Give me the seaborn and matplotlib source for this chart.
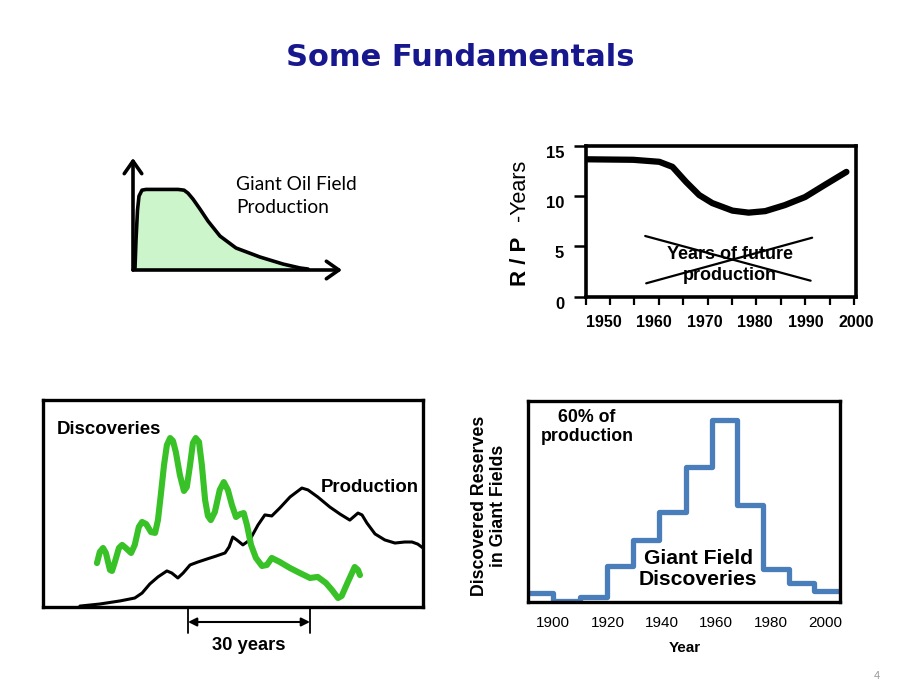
import numpy as np
import pandas as pd
import matplotlib
matplotlib.use("Agg")
import matplotlib.pyplot as plt
import matplotlib.transforms as mtransforms
from matplotlib.ticker import FixedLocator
import seaborn as sns

# ---------------- data ----------------
# Panel 1: giant oil field production profile (years since start, % of plateau)
field_years = [0.5, 0.75, 1.125, 1.5, 2.25, 3.25, 6.75, 11.25, 12.75, 13.75, 15.0,
               16.75, 18.75, 21.75, 25.75, 31.75, 37.5, 41.75, 43.75]
field_prod = [2.5, 37.2, 74.3, 91.7, 99.1, 100, 100, 100, 99.1, 95.4, 88.0,
              75.6, 60.7, 42.1, 27.3, 16.1, 7.4, 2.5, 1.2]

# Panel 2: R/P ratio in years
rp_years = [1946.6, 1955.8, 1961.0, 1963.6, 1966.3, 1968.9, 1971.5, 1975.5,
            1978.7, 1982.0, 1985.9, 1989.9, 1993.8, 1998.1]
rp_values = [13.65, 13.6, 13.4, 12.9, 11.4, 10.1, 9.3, 8.55, 8.35, 8.5, 9.1,
             9.9, 11.1, 12.4]
cross_a_years = [1958.2, 1991.0]
cross_a_values = [6.03, 1.59]
cross_b_years = [1958.4, 1991.3]
cross_b_values = [1.33, 5.86]
rp_tick_years = [1950, 1960, 1970, 1980, 1990, 2000]
rp_tick_values = [0, 5, 10, 15]

# Panel 3: discoveries vs production (relative)
disc_years = [1928.2, 1928.9, 1929.7, 1930.4, 1931.4, 1931.9, 1932.6, 1933.6, 1934.4,
              1935.3, 1936.6, 1937.5, 1938.5, 1939.3, 1940.3, 1941.5, 1942.5, 1943.2,
              1943.9, 1944.7, 1945.4, 1946.2, 1946.9, 1947.6, 1948.6, 1949.6, 1950.3,
              1951.1, 1951.8, 1952.5, 1953.3, 1954.0, 1954.8, 1955.5, 1956.2, 1957.2,
              1958.4, 1959.4, 1960.4, 1961.4, 1962.4, 1963.4, 1964.3, 1965.1, 1966.1,
              1967.3, 1968.8, 1970.0, 1971.2, 1973.2, 1975.7, 1978.1, 1980.6, 1982.5,
              1984.5, 1986.0, 1987.5, 1988.4, 1989.9, 1991.6, 1992.4, 1992.9]
disc_values = [21.1, 26.5, 28.4, 26.0, 17.8, 17.3, 21.6, 28.4, 29.9,
               28.4, 26.0, 29.9, 38.6, 41.0, 40.0, 36.1, 35.7, 41.9,
               54.0, 68.6, 78.2, 81.6, 80.2, 74.8, 63.7, 56.0, 57.9,
               68.6, 79.2, 81.6, 79.7, 68.6, 51.6, 43.9, 41.9, 45.8,
               56.5, 60.3, 56.5, 49.2, 43.4, 44.8, 45.3, 39.5, 29.9,
               23.6, 19.7, 20.2, 23.6, 21.6, 18.7, 16.3, 13.9, 14.4,
               11.5, 8.1, 4.2, 5.2, 11.9, 19.2, 17.8, 15.3]
prod_years = [1924.0, 1928.9, 1933.9, 1937.5, 1939.3, 1941.2, 1943.2, 1945.4, 1946.6,
              1948.1, 1949.4, 1951.1, 1953.0, 1955.3, 1957.5, 1959.7, 1960.7, 1961.6,
              1962.6, 1964.1, 1965.8, 1967.8, 1969.5, 1971.2, 1973.2, 1975.7, 1978.6,
              1980.1, 1982.5, 1985.5, 1988.0, 1990.4, 1992.4, 1993.4, 1994.6, 1996.6,
              1999.0, 2001.5, 2003.9, 2005.7, 2007.1, 2008.4]
prod_values = [0.3, 1.3, 2.8, 4.2, 6.6, 11.0, 14.4, 17.3, 16.3,
               13.9, 16.3, 20.2, 21.6, 23.1, 24.5, 26.0, 28.9, 33.7,
               32.3, 29.9, 32.3, 39.5, 44.4, 43.9, 47.8, 53.1, 57.4,
               56.5, 53.1, 48.2, 44.8, 41.9, 45.3, 44.4, 40.5, 35.2,
               32.3, 30.8, 31.3, 31.3, 30.3, 28.4]
lag_start = 1950.6
lag_years = 30

# Panel 4: giant field discoveries by period (bin edges, relative reserves)
giant_edges = [1890.9, 1900.1, 1909.9, 1919.7, 1929.3, 1939.0, 1948.9, 1958.3,
               1967.5, 1977.1, 1986.8, 1996.1, 2004.9]
giant_values = [4.2, 0.5, 2.5, 17.8, 30.7, 44.8, 66.9, 90.4, 48.1, 16.3, 9.2, 5.5]
giant_tick_years = [1900, 1920, 1940, 1960, 1980, 2000]

# ---------------- style ----------------
sns.set_style("white")
plt.rcParams["font.family"] = ["Liberation Sans", "DejaVu Sans"]
plt.rcParams["text.color"] = "black"
plt.rcParams["xtick.color"] = "black"
plt.rcParams["ytick.color"] = "black"
plt.rcParams["axes.labelcolor"] = "black"

W, H = 900, 695
fig = plt.figure(figsize=(9, 6.95), dpi=100)


def box(left, top, right, bottom):
    return [left / W, 1 - bottom / H, (right - left) / W, (bottom - top) / H]


def ftext(px, py, s, **kw):
    fig.text(px / W, 1 - py / H, s, **kw)


# Title
ftext(460, 58, "Some Fundamentals", ha="center", va="center", fontsize=22,
      fontweight="bold", color="#18188e", family=["DejaVu Sans"])

# ---------- Panel 1 ----------
ax1 = fig.add_axes(box(133, 158, 342, 270))
ax1.set_xlim(0, 52.25)
ax1.set_ylim(0, 139)
ax1.axis("off")
ax1.fill_between(field_years, field_prod, 0, color="#ccf5cc", lw=0)
sns.lineplot(x=field_years, y=field_prod, ax=ax1, color="black", lw=2.6,
             estimator=None, sort=False)
arrow_kw = dict(arrowstyle="->,head_length=0.5,head_width=0.35", lw=2.6,
                color="black", mutation_scale=18, shrinkA=0, shrinkB=0)
ax1.annotate("", xy=(52.25, 0), xytext=(0, 0), arrowprops=arrow_kw,
             annotation_clip=False)
ax1.annotate("", xy=(0, 139), xytext=(0, 0), arrowprops=arrow_kw,
             annotation_clip=False)
ftext(236, 196, "Giant Oil Field\nProduction", ha="left", va="center",
      fontsize=13.8, family=["Lato", "DejaVu Sans"], linespacing=1.4)

# ---------- Panel 2 ----------
ax2 = fig.add_axes(box(585.7, 145.7, 856, 296.7))
xl = (1946.4, 1999.6)
ax2.set_xlim(*xl)
ax2.set_ylim(0, 15)
sns.lineplot(x=rp_years, y=rp_values, ax=ax2, color="black", lw=4.5,
             estimator=None, sort=False)
sns.lineplot(x=cross_a_years, y=cross_a_values, ax=ax2, color="black", lw=1.6,
             estimator=None, sort=False)
sns.lineplot(x=cross_b_years, y=cross_b_values, ax=ax2, color="black", lw=1.6,
             estimator=None, sort=False)
for s in ax2.spines.values():
    s.set_linewidth(2.6)
    s.set_color("black")
ax2.set_yticks(rp_tick_values)
ax2.set_yticklabels([str(v) for v in rp_tick_values], fontweight="bold", fontsize=12)
ax2.set_xticks(rp_tick_years)
ax2.set_xticklabels([str(v) for v in rp_tick_years], fontweight="bold", fontsize=11.5)
ax2.xaxis.set_minor_locator(FixedLocator(np.linspace(xl[0], xl[1], 12)))
ax2.tick_params(axis="y", left=True, length=8.5, width=1.8, direction="out", pad=7)
ax2.tick_params(axis="x", which="major", bottom=True, length=0, pad=13)
ax2.tick_params(axis="x", which="minor", bottom=True, length=5.5, width=1.6,
                direction="out")
for lab in ax2.get_yticklabels():
    lab.set_verticalalignment("top")
ax2.set_xlabel("")
ax2.set_ylabel("")
ftext(730, 265, "Years of future\nproduction", ha="center", va="center",
      fontsize=13, fontweight="bold", linespacing=1.3)
ftext(520, 261, "R / P", rotation=90, ha="center", va="center", fontsize=16,
      fontweight="bold")
ftext(520, 190, "-Years", rotation=90, ha="center", va="center", fontsize=15.5)

# ---------- Panel 3 ----------
ax3 = fig.add_axes(box(43.3, 400, 423, 606.7))
ax3.set_xlim(1915, 2008.4)
ax3.set_ylim(0, 100)
sns.lineplot(x=prod_years, y=prod_values, ax=ax3, color="black", lw=2.2,
             estimator=None, sort=False)
sns.lineplot(x=disc_years, y=disc_values, ax=ax3, color="#39c128", lw=4.4,
             estimator=None, sort=False, solid_joinstyle="round",
             solid_capstyle="round")
ax3.set_xticks([])
ax3.set_yticks([])
ax3.set_xlabel("")
ax3.set_ylabel("")
for s in ax3.spines.values():
    s.set_linewidth(2.4)
    s.set_color("black")
trans = mtransforms.blended_transform_factory(ax3.transData, ax3.transAxes)
for xv in (lag_start, lag_start + lag_years):
    ax3.plot([xv, xv], [0, -0.125], transform=trans, color="black", lw=1.3,
             clip_on=False)
ax3.annotate("", xy=(lag_start + lag_years, -0.074), xytext=(lag_start, -0.074),
             xycoords=trans, textcoords=trans, annotation_clip=False,
             arrowprops=dict(arrowstyle="<|-|>,head_length=0.5,head_width=0.25",
                             color="black", lw=1.5, mutation_scale=10,
                             shrinkA=0, shrinkB=0))
ftext(57, 429, "Discoveries", ha="left", va="center", fontsize=13.4,
      fontweight="bold")
ftext(321, 487, "Production", ha="left", va="center", fontsize=13.4,
      fontweight="bold")
ftext(249, 646, "30 years", ha="center", va="center", fontsize=13.2,
      fontweight="bold")

# ---------- Panel 4 ----------
ax4 = fig.add_axes(box(528.3, 400.7, 840, 601.7))
ax4.set_xlim(1890.9, 2005.5)
ax4.set_ylim(0, 100)
step_x = list(giant_edges)
step_y = list(giant_values) + [giant_values[-1]]
sns.lineplot(x=step_x, y=step_y, ax=ax4, color="#4a7ebb", lw=3.8,
             estimator=None, sort=False, drawstyle="steps-post")
for s in ax4.spines.values():
    s.set_linewidth(2.4)
    s.set_color("black")
ax4.set_yticks([])
ax4.set_xticks(giant_tick_years)
ax4.set_xticklabels([str(v) for v in giant_tick_years], fontsize=11)
ax4.tick_params(axis="x", bottom=True, length=0, pad=10)
ax4.set_xlabel("")
ax4.set_ylabel("")
ftext(685, 648, "Year", ha="center", va="center", fontsize=11, fontweight="bold")
ftext(489, 506, "Discovered Reserves\nin Giant Fields", rotation=90, ha="center",
      va="center", fontsize=12.8, fontweight="bold", linespacing=1.15,
      multialignment="center")
ftext(587, 427, "60% of\nproduction", ha="center", va="center", fontsize=12.8,
      fontweight="bold", linespacing=1.1)
ftext(698, 569, "Giant Field\nDiscoveries", ha="center", va="center",
      fontsize=15.2, fontweight="bold", linespacing=1.15)

# Page number
ftext(877, 676, "4", ha="center", va="center", fontsize=8, color="#999999")

fig.savefig("out.png", dpi=100)
